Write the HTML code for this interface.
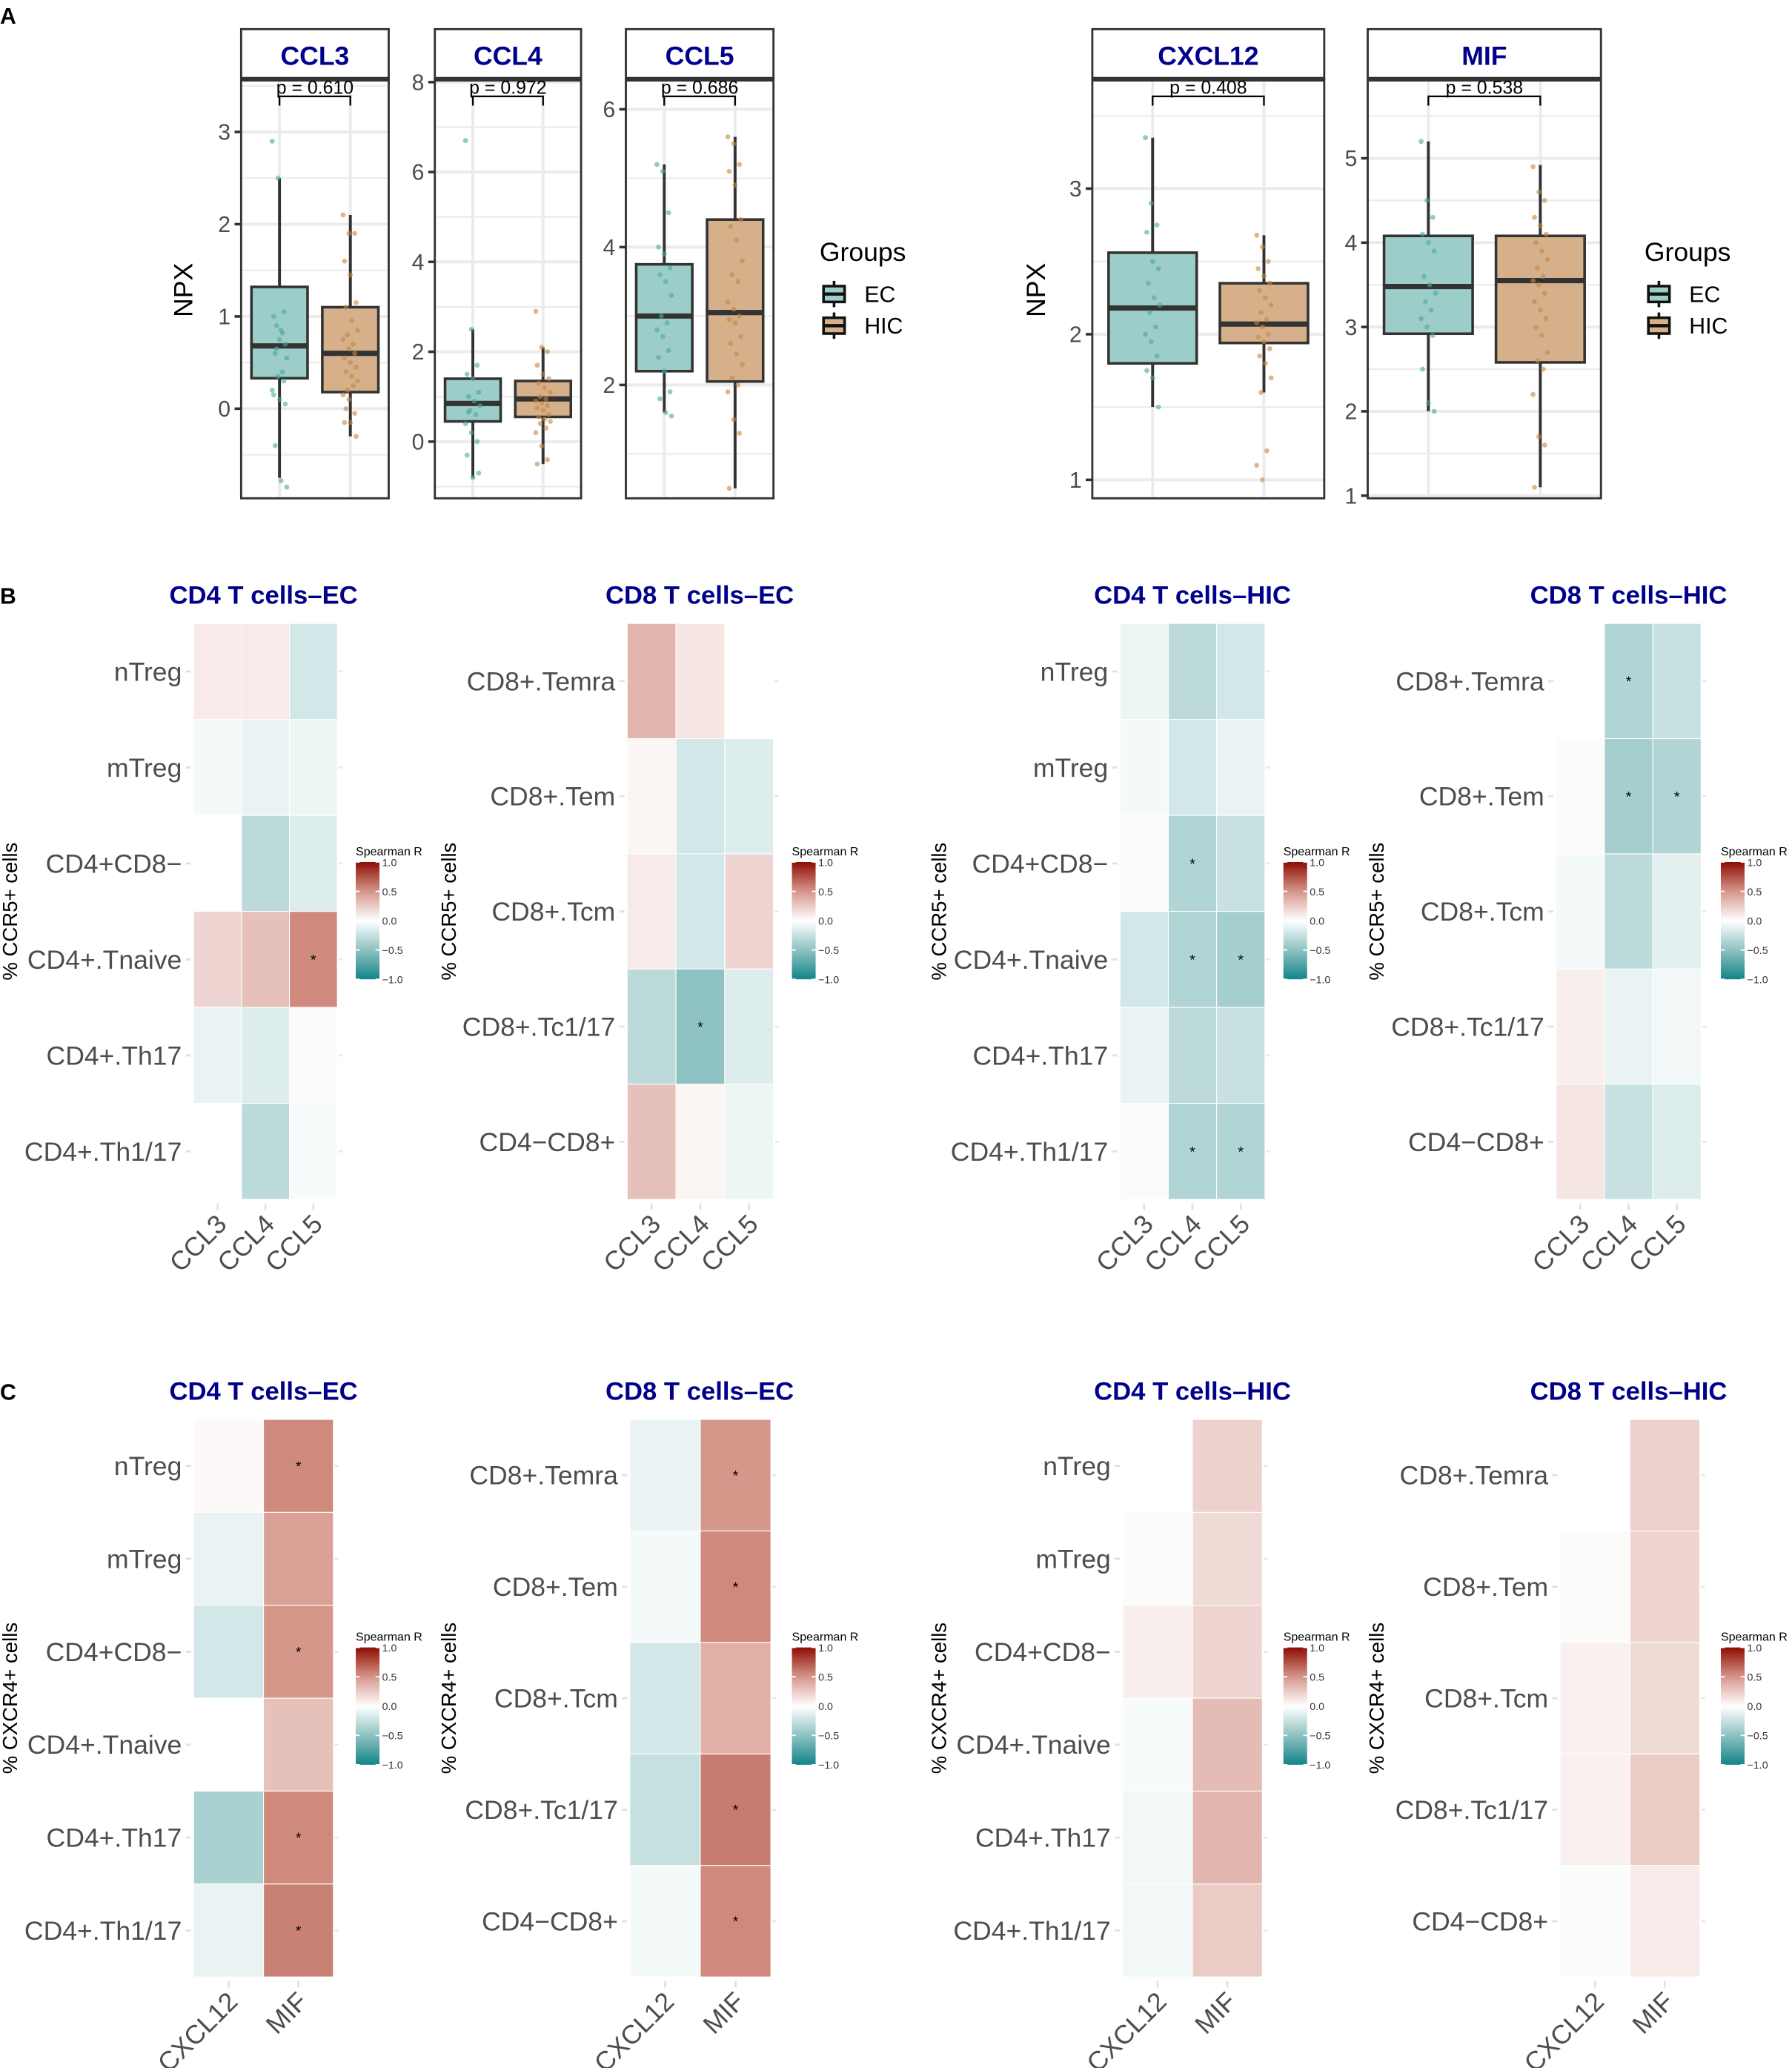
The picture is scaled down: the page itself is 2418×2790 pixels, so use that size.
<!DOCTYPE html>
<html><head><meta charset="utf-8"><style>
html,body{margin:0;padding:0;background:#fff}
svg{display:block}
text{font-family:"Liberation Sans",sans-serif}
</style></head><body>
<svg id="fig" width="2418" height="2790" viewBox="0 0 1360 1569" xmlns="http://www.w3.org/2000/svg">
<rect width="1360" height="1569" fill="#fff"/>
<text x="0" y="18" font-size="17" font-weight="bold">A</text>
<text x="0" y="458" font-size="17" font-weight="bold">B</text>
<text x="0" y="1062" font-size="17" font-weight="bold">C</text>
<g id="root"></g>
</svg>
<script>
// ---------- Panel A data ----------
const boxGenes = ["CCL3","CCL4","CCL5","CXCL12","MIF"];
const pValues = ["0.610","0.972","0.686","0.408","0.538"];
const boxTicks = [[0,1,2,3],[0,2,4,6,8],[2,4,6],[1,2,3],[1,2,3,4,5]];
// stats: [low whisker, q1, median, q3, high whisker]
const ecStats = [[-0.75,0.33,0.68,1.32,2.5],[-0.8,0.45,0.85,1.4,2.5],[1.6,2.2,3.0,3.75,5.2],[1.5,1.8,2.18,2.56,3.35],[2.0,2.92,3.48,4.08,5.2]];
const hicStats = [[-0.3,0.18,0.6,1.1,2.1],[-0.5,0.55,0.95,1.35,2.1],[0.5,2.05,3.05,4.4,5.6],[1.6,1.94,2.07,2.35,2.68],[1.1,2.58,3.55,4.08,4.92]];
const ecPoints = [
 [2.9,2.5,1.05,1.0,0.75,0.7,0.6,0.85,0.55,0.65,0.4,0.2,0.35,0.3,0.15,0.1,0.05,-0.4,-0.78,-0.85,0.9,0.82],
 [6.7,2.5,1.7,1.5,1.4,1.1,1.0,0.9,0.8,0.7,0.6,0.4,0.2,0.0,-0.3,-0.8,-0.7,0.65],
 [5.2,5.1,4.5,4.0,3.9,3.7,3.6,3.5,3.3,3.0,2.9,2.8,2.7,2.5,2.4,2.2,1.9,1.8,1.6,1.55],
 [3.35,2.9,2.75,2.7,2.5,2.45,2.35,2.25,2.2,2.15,2.05,2.0,1.95,1.85,1.75,1.7,1.5],
 [5.2,4.5,4.3,4.1,4.0,3.9,3.6,3.5,3.4,3.3,3.2,3.1,3.0,2.9,2.5,2.1,2.0]];
const hicPoints = [
 [2.1,1.9,1.9,1.6,1.45,1.15,1.1,0.95,0.85,0.8,0.7,0.75,0.65,0.6,0.55,0.5,0.45,0.4,0.35,0.3,0.2,0.25,0.15,0.1,-0.05,-0.15,-0.15,-0.3,0.0],
 [2.9,2.1,2.0,1.7,1.5,1.4,1.3,1.2,1.1,1.0,0.95,0.9,0.85,0.8,0.75,0.7,0.6,0.55,0.5,0.45,0.4,0.3,0.2,-0.1,-0.4,-0.5],
 [5.6,5.5,5.2,5.1,4.9,4.4,4.3,4.1,3.8,3.6,3.5,3.2,3.1,3.0,2.95,2.9,2.7,2.6,2.45,2.3,2.1,2.0,1.9,1.5,1.3,0.5],
 [2.68,2.6,2.5,2.45,2.4,2.35,2.3,2.25,2.2,2.15,2.1,2.08,2.05,2.0,1.98,1.95,1.9,1.85,1.8,1.7,1.6,1.2,1.1,1.0],
 [4.9,4.6,4.5,4.3,4.2,4.1,4.0,3.9,3.8,3.7,3.6,3.55,3.5,3.4,3.3,3.2,3.1,3.0,2.9,2.7,2.6,2.5,2.2,1.7,1.6,1.1]];

// ---------- Heatmap data ----------
const cd4Rows = ["nTreg","mTreg","CD4+CD8\u2212","CD4+.Tnaive","CD4+.Th17","CD4+.Th1/17"];
const cd8Rows = ["CD8+.Temra","CD8+.Tem","CD8+.Tcm","CD8+.Tc1/17","CD4\u2212CD8+"];
const ccrCols = ["CCL3","CCL4","CCL5"];
const cxcCols = ["CXCL12","MIF"];
const hmTitles = ["CD4 T cells\u2013EC","CD8 T cells\u2013EC","CD4 T cells\u2013HIC","CD8 T cells\u2013HIC"];
const bCd4Ec = [[0.1,0.1,-0.2],[-0.05,-0.1,-0.08],[0.0,-0.3,-0.15],[0.2,0.3,0.55],[-0.1,-0.15,0.02],[0.0,-0.3,-0.03]];
const bCd4EcSig = [[0,0,0],[0,0,0],[0,0,0],[0,0,1],[0,0,0],[0,0,0]];
const bCd8Ec = [[0.35,0.12,0.0],[0.05,-0.2,-0.15],[0.1,-0.2,0.2],[-0.3,-0.5,-0.15],[0.3,0.05,-0.08]];
const bCd8EcSig = [[0,0,0],[0,0,0],[0,0,0],[0,1,0],[0,0,0]];
const bCd4Hic = [[-0.08,-0.3,-0.2],[-0.05,-0.2,-0.1],[0.02,-0.35,-0.25],[-0.2,-0.35,-0.4],[-0.1,-0.3,-0.25],[0.02,-0.35,-0.35]];
const bCd4HicSig = [[0,0,0],[0,0,0],[0,1,0],[0,1,1],[0,0,0],[0,1,1]];
const bCd8Hic = [[0.0,-0.35,-0.25],[0.02,-0.4,-0.35],[-0.05,-0.3,-0.12],[0.08,-0.1,-0.06],[0.12,-0.25,-0.15]];
const bCd8HicSig = [[0,1,0],[0,1,1],[0,0,0],[0,0,0],[0,0,0]];
const cCd4Ec = [[0.03,0.55],[-0.1,0.45],[-0.2,0.5],[0.0,0.3],[-0.38,0.55],[-0.1,0.58]];
const cCd4EcSig = [[0,1],[0,0],[0,1],[0,0],[0,1],[0,1]];
const cCd8Ec = [[-0.1,0.5],[-0.05,0.55],[-0.2,0.38],[-0.25,0.6],[-0.05,0.55]];
const cCd8EcSig = [[0,1],[0,1],[0,0],[0,1],[0,1]];
const cCd4Hic = [[0.0,0.22],[0.02,0.18],[0.08,0.2],[-0.03,0.32],[-0.06,0.35],[-0.06,0.25]];
const cCd4HicSig = [[0,0],[0,0],[0,0],[0,0],[0,0],[0,0]];
const cCd8Hic = [[0.0,0.22],[0.02,0.2],[0.07,0.18],[0.07,0.25],[-0.02,0.1]];
const cCd8HicSig = [[0,0],[0,0],[0,0],[0,0],[0,0]];
const legendLabels = ["1.0","0.5","0.0","\u22120.5","\u22121.0"];

const NS="http://www.w3.org/2000/svg";
const root=document.getElementById('root');
function mk(tag,attrs,parent,txt){const e=document.createElementNS(NS,tag);for(const k in attrs)e.setAttribute(k,attrs[k]);if(txt!==undefined)e.textContent=txt;(parent||root).appendChild(e);return e;}

// ---------- Panel A ----------
const boxLayout=[{x0:183,x1:295,y0v:0,y0:310,k:70},{x0:330,x1:441,y0v:0,y0:335,k:34.1},{x0:475,x1:587,y0v:2,y0:292,k:52.3},{x0:829,x1:1005,y0v:1,y0:364,k:110.5},{x0:1038,x1:1215,y0v:1,y0:376,k:64}];
const EC_FILL="#9dcdc8",HIC_FILL="#d6b08b",EC_PT="#4aa99b",HIC_PT="#c48743";
boxGenes.forEach((g,i)=>{
  const L=boxLayout[i];
  const yS=v=>L.y0-(v-L.y0v)*L.k;
  const w=L.x1-L.x0;
  const cE=L.x0+w*0.26,cH=L.x0+w*0.74,bw=w*0.38;
  const grp=mk('g',{});
  
  
  const ticks=boxTicks[i];const step=ticks[1]-ticks[0];
  for(let v=ticks[0]-step*2;v<=ticks[ticks.length-1]+step*2;v+=step/2){
    const y=yS(v);if(y<62||y>376)continue;
    const major=Math.abs((v-ticks[0])/step-Math.round((v-ticks[0])/step))<1e-6;
    mk('line',{x1:L.x0,x2:L.x1,y1:y,y2:y,stroke:'#ebebeb','stroke-width':major?2.2:1.2},grp);
  }
  [cE,cH].forEach(c=>mk('line',{x1:c,x2:c,y1:60,y2:378,stroke:'#ebebeb','stroke-width':2.2},grp));
  ticks.forEach(t=>{const y=yS(t);
    mk('line',{x1:L.x0-5,x2:L.x0,y1:y,y2:y,stroke:'#333','stroke-width':2},grp);
    const tx=mk('text',{x:L.x0-8,y:y+6,'font-size':17,fill:'#4d4d4d','text-anchor':'end'},grp,String(t));
    
    
  });
  [[ecStats[i],cE,EC_FILL,ecPoints[i],EC_PT,'ec'],[hicStats[i],cH,HIC_FILL,hicPoints[i],HIC_PT,'hic']].forEach(([s,c,fill,pts,pc,nm])=>{
    mk('line',{x1:c,x2:c,y1:yS(s[0]),y2:yS(s[4]),stroke:'#333','stroke-width':2.2},grp);
    const r=mk('rect',{x:c-bw/2,y:yS(s[3]),width:bw,height:yS(s[1])-yS(s[3]),fill:fill,stroke:'#333','stroke-width':2},grp);
    
    
    mk('line',{x1:c-bw/2,x2:c+bw/2,y1:yS(s[2]),y2:yS(s[2]),stroke:'#333','stroke-width':4},grp);
    pts.forEach((v,j)=>{
      const dx=((j*37)%11-5)*1.1;
      const p=mk('circle',{cx:c+dx,cy:yS(v),r:1.9,fill:pc,'fill-opacity':0.6},grp);
      
      
    });
  });
  mk('rect',{x:L.x0,y:60,width:w,height:318,fill:'none',stroke:'#333','stroke-width':1.6},grp);
  mk('rect',{x:L.x0,y:22,width:w,height:38,fill:'#fff',stroke:'#333','stroke-width':1.6},grp);
  mk('line',{x1:L.x0,x2:L.x1,y1:60,y2:60,stroke:'#333','stroke-width':3.5},grp);
  const st=mk('text',{x:(L.x0+L.x1)/2,y:49,'font-size':20,'font-weight':'bold',fill:'#00008b','text-anchor':'middle'},grp,g);
  
  
  mk('path',{d:`M${cE},80 V73 H${cH} V80`,fill:'none',stroke:'#000','stroke-width':1.3},grp);
  const pt=mk('text',{x:(cE+cH)/2,y:71,'font-size':14,'text-anchor':'middle',fill:'#000'},grp,'p = '+pValues[i]);
  
  
});
[[146,220],[793,220]].forEach(([x,y])=>{
  const t=mk('text',{x:x,y:y,'font-size':20,'text-anchor':'middle',transform:`rotate(-90 ${x} ${y})`},root,'NPX');
  
  
});
[622,1248].forEach(lx=>{
  const lg=mk('g',{});
  
  
  mk('text',{x:lx,y:198,'font-size':20},lg,'Groups');
  [['EC',EC_FILL,223],['HIC',HIC_FILL,247]].forEach(([n,f,y])=>{
    mk('line',{x1:lx+11,x2:lx+11,y1:y-10,y2:y+10,stroke:'#111','stroke-width':2},lg);
    mk('rect',{x:lx+3,y:y-6,width:16,height:12,fill:f,stroke:'#111','stroke-width':2},lg);
    mk('line',{x1:lx+3,x2:lx+19,y1:y,y2:y,stroke:'#111','stroke-width':2.5},lg);
    mk('text',{x:lx+34,y:y+6,'font-size':17},lg,n);
  });
});

// ---------- Heatmaps ----------
const stops=[[-1,[18,133,138]],[-0.5,[143,194,194]],[0,[255,255,255]],[0.5,[214,151,139]],[1,[142,12,2]]];
function col(v){v=Math.max(-1,Math.min(1,v));for(let i=0;i<stops.length-1;i++){const[a,ca]=stops[i],[b,cb]=stops[i+1];if(v<=b){const t=(v-a)/(b-a);return `rgb(${ca.map((c,k)=>Math.round(c+(cb[k]-c)*t)).join(',')})`;}}return 'rgb(142,12,2)';}
const gradDefs=mk('defs',{});
const lg=mk('linearGradient',{id:'sp',x1:0,y1:1,x2:0,y2:0},gradDefs);
for(let k=0;k<=10;k++){const v=-1+k*0.2;mk('stop',{offset:(k*10)+'%','stop-color':col(v)},lg);}

function heatmap(name,title,rows,cols,vals,sig,x0,x1,y0,y1,tcx,ty,ylabX,ylab,legX,legY){
  const g=mk('g',{});
  
  
  const cw=(x1-x0)/cols.length,rh=(y1-y0)/rows.length;
  const t=mk('text',{x:tcx,y:ty,'font-size':19.5,'font-weight':'bold',fill:'#00008b','text-anchor':'middle'},g,title);
  
  
  rows.forEach((r,i)=>{
    const cy=y0+rh*(i+0.5);
    mk('line',{x1:x0-6,x2:x0-2,y1:cy,y2:cy,stroke:'#e0e0e0','stroke-width':1.5},g);
    mk('line',{x1:x1+1,x2:x1+4,y1:cy,y2:cy,stroke:'#e8e8e8','stroke-width':1.5},g);
    const rl=mk('text',{x:x0-9,y:cy+7,'font-size':20,fill:'#4d4d4d','text-anchor':'end'},g,r);
    
    
    cols.forEach((c,j)=>{
      const cell=mk('rect',{x:x0+cw*j,y:y0+rh*i,width:cw,height:rh,fill:col(vals[i][j]),stroke:'#fff','stroke-width':0.6},g);
      
      
      if(sig[i][j]){mk('text',{x:x0+cw*(j+0.5),y:cy+4,'font-size':11,'text-anchor':'middle'},g,'*');}
    });
  });
  cols.forEach((c,j)=>{
    const cx=x0+cw*(j+0.5);
    mk('line',{x1:cx,x2:cx,y1:y1+3,y2:y1+8,stroke:'#e0e0e0','stroke-width':1.5},g);
    const xl=mk('text',{x:cx+8,y:y1+20,'font-size':20,fill:'#4d4d4d','text-anchor':'end',transform:`rotate(-45 ${cx+8} ${y1+20})`},g,c);
    
    
  });
  const yc=(y0+y1)/2;
  const yl=mk('text',{x:ylabX,y:yc,'font-size':15.5,'text-anchor':'middle',transform:`rotate(-90 ${ylabX} ${yc})`},g,ylab);
  
  
  const leg=mk('g',{},g);
  
  
  mk('text',{x:legX,y:legY,'font-size':9},leg,'Spearman R');
  const by0=legY+5,bh=89;
  mk('rect',{x:legX,y:by0,width:18,height:bh,fill:'url(#sp)'},leg);
  legendLabels.forEach((l,k)=>{const y=by0+bh*k/4;
    mk('line',{x1:legX,x2:legX+3,y1:y,y2:y,stroke:'#fff','stroke-width':1},leg);
    mk('line',{x1:legX+15,x2:legX+18,y1:y,y2:y,stroke:'#fff','stroke-width':1},leg);
    mk('text',{x:legX+20,y:y+3,'font-size':8,fill:'#333'},leg,l);});
}
const bX=[[147,256],[476,587],[850,960],[1181,1291]];
const cX=[[147,253],[478,585],[852,958],[1184,1290]];
const tcx=[200,531,905,1236];
const ylx=[13,346,718,1050];
const legx=[270,601,974,1306];
const bVals=[bCd4Ec,bCd8Ec,bCd4Hic,bCd8Hic],bSig=[bCd4EcSig,bCd8EcSig,bCd4HicSig,bCd8HicSig];
const cVals=[cCd4Ec,cCd8Ec,cCd4Hic,cCd8Hic],cSig=[cCd4EcSig,cCd8EcSig,cCd4HicSig,cCd8HicSig];
for(let p=0;p<4;p++){
  const rows=(p%2===0)?cd4Rows:cd8Rows;
  heatmap('ccr5-heatmap-'+(p+1),hmTitles[p],rows,ccrCols,bVals[p],bSig[p],bX[p][0],bX[p][1],473,910,tcx[p],458,ylx[p],'% CCR5+ cells',legx[p],649);
  heatmap('cxcr4-heatmap-'+(p+1),hmTitles[p],rows,cxcCols,cVals[p],cSig[p],cX[p][0],cX[p][1],1077,1500,tcx[p],1062,ylx[p],'% CXCR4+ cells',legx[p],1245);
}
</script>
</body></html>
